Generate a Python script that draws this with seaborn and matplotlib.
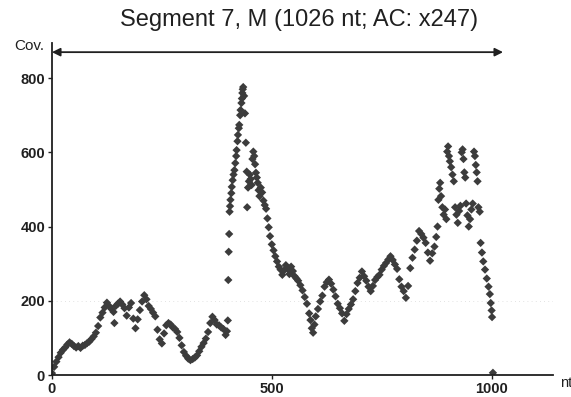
import pandas as pd
import seaborn as sns
import matplotlib.pyplot as plt

title = "Segment 7, M (1026 nt; AC: x247)"
segment_length = 1026
x_ticks = [0, 500, 1000]
y_ticks = [0, 200, 400, 600, 800]

# coverage per position
nt = [0, 5, 10, 15, 20, 25, 30, 35, 40, 45, 50, 55, 60, 65, 70, 75, 80, 85, 90, 95,
      100, 105, 110, 115, 120, 125, 130, 135, 140, 142, 145, 150, 155, 160, 165, 170, 175, 180, 185, 190,
      195, 200, 205, 210, 215, 220, 225, 230, 235, 240, 245, 250, 255, 260, 265, 270, 275, 280, 285, 290,
      295, 300, 305, 310, 315, 320, 325, 330, 335, 340, 345, 350, 355, 360, 365, 370, 375, 380, 385, 390,
      395, 398,
      400, 401, 402, 403, 404, 405, 406, 408, 409, 411, 413, 415, 417, 419, 420, 422, 423, 425, 426, 428,
      429, 431, 432, 433, 434, 435,
      437, 439, 441, 443, 444, 446, 448, 450, 452, 454, 456, 458, 460, 462, 464, 466, 468, 470, 472, 475,
      478, 481, 484, 487, 490, 493, 496, 500, 504, 508, 512, 516, 520, 524, 528, 532, 536, 540, 544, 548,
      552, 556, 560, 565, 570, 575, 580, 585, 588, 591, 594, 597, 600, 605, 610, 615, 620, 625, 630, 635,
      640, 645, 650, 655, 660, 665, 670, 675, 680, 685, 690, 695, 700, 705, 710, 715, 720, 725, 730, 735,
      740, 745, 750, 755, 760, 765, 770, 775, 780, 785, 790, 795, 800, 805, 810, 815, 820, 825, 830, 835,
      840, 845, 850, 855, 860, 865, 870, 874, 877, 879, 881, 883, 885, 888, 891, 894, 897, 899, 901, 903,
      905, 908, 911, 914, 917, 920, 923, 926, 929, 932, 934, 936, 938, 940, 942, 945, 948, 951, 954, 957,
      960, 962, 964, 966, 968, 970, 973, 975, 978, 981, 985, 989, 993, 996, 998, 1000, 1001, 1003]

cov = [5, 22, 36, 48, 60, 68, 74, 82, 88, 84, 78, 74, 78, 73, 79, 81, 86, 90, 97, 104,
       114, 132, 155, 168, 182, 195, 186, 178, 170, 140, 186, 192, 198, 190, 180, 160, 182, 194, 152, 126,
       150, 175, 198, 215, 204, 186, 178, 168, 158, 122, 96, 85, 112, 134, 140, 136, 128, 124, 116, 100,
       80, 62, 52, 44, 40, 43, 47, 53, 64, 76, 86, 98, 116, 140, 157, 148, 136, 134, 128, 124,
       108, 118,
       147, 256, 332, 380, 440, 455, 472, 490, 507, 525, 540, 552, 571, 590, 606, 630, 647, 665, 674, 700,
       714, 733, 745, 760, 770, 776,
       752, 705, 626, 548, 452, 505, 522, 540, 528, 512, 582, 602, 590, 568, 545, 532, 518, 498, 482, 505,
       492, 470, 458, 448, 422, 398, 374, 352, 336, 320, 306, 292, 284, 270, 282, 296, 286, 272, 292, 280,
       266, 260, 254, 242, 228, 210, 192, 166, 148, 126, 114, 136, 158, 178, 198, 214, 238, 250, 257, 246,
       230, 212, 192, 180, 166, 146, 164, 178, 190, 204, 226, 248, 262, 279, 266, 254, 238, 226, 240, 256,
       264, 270, 284, 294, 302, 311, 320, 310, 298, 286, 258, 238, 226, 208, 240, 288, 316, 338, 362, 388,
       380, 370, 356, 330, 308, 328, 346, 372, 400, 472, 502, 518, 482, 452, 432, 446, 420, 602, 616, 590,
       576, 560, 540, 522, 452, 432, 410, 442, 456, 600, 608, 582, 546, 532, 462, 430, 400, 420, 446, 462,
       602, 590, 566, 546, 522, 452, 440, 356, 330, 306, 284, 260, 238, 218, 194, 174, 156, 6]

df = pd.DataFrame({"nt": nt, "cov": cov})

sns.set_theme(style="ticks")
plt.rcParams["font.family"] = ["Liberation Sans", "DejaVu Sans"]

fig = plt.figure(figsize=(5.71, 3.97), dpi=100)
ax = fig.add_axes([0.091, 0.0554, 0.877, 0.8366])

# faint dotted guide line visible in the scan
ax.axhline(200, color="0.85", lw=0.6, ls=(0, (1, 4)), zorder=0)

sns.scatterplot(data=df, x="nt", y="cov", ax=ax, marker="D", s=18,
                color="#3c3c3c", edgecolor="none", linewidth=0)

ax.set_xlim(0, 1139)
ax.set_ylim(0, 895)
ax.set_xticks(x_ticks)
ax.set_yticks(y_ticks)
ax.set_xlabel("")
ax.set_ylabel("")
for side in ["top", "right"]:
    ax.spines[side].set_visible(False)
for side in ["left", "bottom"]:
    ax.spines[side].set_color("#202020")
    ax.spines[side].set_linewidth(1.3)
ax.tick_params(length=3, width=1, pad=2, labelsize=10.5, colors="#202020")
for lbl in ax.get_xticklabels() + ax.get_yticklabels():
    lbl.set_fontweight("bold")

# segment span arrow
ax.annotate("", xy=(0, 870), xytext=(segment_length, 870),
            arrowprops=dict(arrowstyle="<|-|>", color="#202020", lw=1.3,
                            shrinkA=0, shrinkB=0, mutation_scale=12))

ax.text(-0.076, 0.99, "Cov.", transform=ax.transAxes, fontsize=11,
        ha="left", va="center", color="#202020")
fig.text(0.981, 0.035, "nt", fontsize=10.5, ha="left", va="center", color="#202020")
fig.text(299 / 571, 1 - 20 / 397, title, ha="center", va="center",
         fontsize=17, color="#202020")

plt.savefig("out.png", dpi=100)
plt.close()
